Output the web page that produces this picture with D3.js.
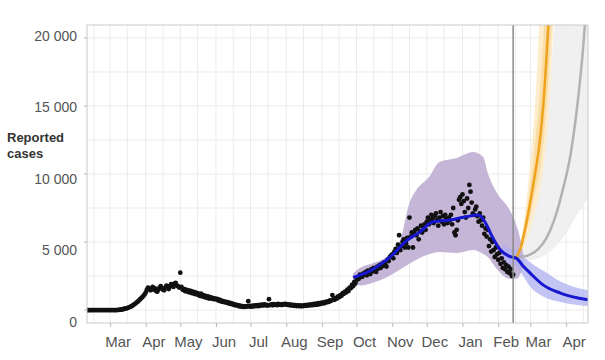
<!DOCTYPE html>
<html>
<head>
<meta charset="utf-8">
<script src="https://cdn.jsdelivr.net/npm/d3@7"></script>
<style>
  html, body { margin: 0; padding: 0; background: #fff; }
  svg { display: block; font-family: "Liberation Sans", Arial, sans-serif; }
</style>
</head>
<body>
<svg id="chart" width="605" height="360"></svg>
<script>
// ---------------- DATA ----------------
const casesStart = "2020-02-10"; // first daily observation
const dailyCases = [
  // Feb 10-29 2020
  0,0,0,0,0,0,0,0,0,0, 0,0,0,0,0,0,0,0,0,0,
  // Mar 1-31
  0,0,0,0,0,0,0, 10,20,30,40,60,80,100,120,150,180,220,260,300,350,420,480,550,620,700,780,860,950,1050,1150,
  // Apr
  1300,1500,1650,1600,1450,1550,1700,1500,1600,1400, 1350,1500,1650,1750,1600,1500,1450,1650,1800,1700, 1550,1750,1900,1850,1700,1950,2000,1800,1750,1650,
  // May
  2750,1700,1500,1550,1400,1500,1350,1450,1300,1400, 1250,1350,1200,1300,1150,1250,1100,1050,1200,1000, 1100,950,1050,900,1000,850,950,850,900,800,850,
  // Jun
  780,820,700,760,650,700,600,640,560,600, 520,560,460,500,420,450,360,400,330,360, 280,320,250,290,230,270,240,280,650,260,
  // Jul
  300,250,330,280,350,300,360,290,380,320, 400,340,420,350,380,330,800,370,420,350, 440,380,420,360,450,390,410,370,440,400,460,
  // Aug
  430,380,410,350,400,330,380,310,360,300, 350,290,340,280,330,300,360,310,380,330, 400,350,420,360,450,380,470,400,500,430,520,
  // Sep
  480,560,500,600,560,640,600,720,680,1100, 800,760,900,850,1000,950,1100,1050,1250,1200, 1350,1300,1500,1400,1650,1600,1850,1750,2050,1950,
  // Oct
  2200,2400,2300,2600,2500,2450,2700,2600,2800,2550, 2900,2750,2650,3000,2850,3100,2900,2800,3200,3050, 3300,3100,3400,3250,3500,3350,3200,3700,3600,3900,4000,
  // Nov
  4100,3800,4300,4500,4200,4800,5500,4400,4700,5000, 5200,4600,4900,5300,4600,6800,5400,5700,4600,5600, 5900,5500,6000,5200,5800,6200,5700,6100,6300,5900,
  // Dec
  6500,6800,6300,6600,7000,6700,6400,6900,7100,6600, 6200,6800,7200,6500,6900,6300,7000,6700,6400,6800, 6600,7000,6300,7500,5700,5500,5900,6600,8100,8300,7800,
  // Jan 2021
  8500,8000,7200,6800,8200,7500,9200,8700,7900,7100, 7000,7400,7600,6900,6500,7100,6600,6200,6800,5600, 6000,5400,5900,4700,5200,4300,5000,4400,3900,4600,4100,
  // Feb 1-14
  3700,4200,3400,3800,3100,3500,3000,3300,2800,3200,2700,3000,2500,2600
];

// Model fit + forecast (central estimate)
const fitDates  = ["2020-09-28","2020-10-04","2020-10-12","2020-10-21","2020-11-03","2020-11-12","2020-11-25","2020-12-06","2020-12-21","2021-01-03","2021-01-15","2021-01-21","2021-01-27","2021-02-03","2021-02-11","2021-02-17","2021-02-22","2021-03-01","2021-03-12","2021-03-27","2021-04-20"];
const fitValues = [2400,2570,2850,3310,4190,5000,5735,6470,6620,6840,6985,6400,5370,4410,3950,3800,3300,2700,1850,1250,750];

// Fit uncertainty band (purple)
const bandDates = ["2020-09-28","2020-10-05","2020-10-15","2020-10-27","2020-11-03","2020-11-08","2020-11-16","2020-11-22","2020-12-03","2020-12-12","2020-12-27","2021-01-10","2021-01-19","2021-01-23","2021-01-31","2021-02-11","2021-02-17","2021-02-20","2021-02-23"];
const bandLower = [2000,1800,2000,2400,2720,3000,3400,3700,4100,4260,4190,4410,4120,3900,3000,2300,2300,2600,3300];
const bandUpper = [2700,3150,3450,3900,4500,5150,7870,8820,9780,10880,11180,11620,11250,10070,8600,7350,6200,5300,4000];

// Forecast band (blue)
const fcDates = ["2021-02-05","2021-02-11","2021-02-17","2021-02-22","2021-03-01","2021-03-12","2021-03-27","2021-04-20"];
const fcLower = [3700,3400,3200,2600,1700,1000,600,300];
const fcUpper = [4900,4500,4400,4000,3500,2900,2100,1450];

// Scenario A (orange)
const orDates  = ["2021-02-17","2021-02-21","2021-02-25","2021-03-01","2021-03-05","2021-03-09","2021-03-13","2021-03-17","2021-03-21"];
const orValues = [3900,4700,6200,8000,10000,12300,16000,21500,27000];
const orInnerLo = [3900,4450,5600,7000,8600,10200,13000,17500,23000];
const orInnerHi = [3900,5000,6900,9300,12200,15800,21000,28000,36000];
const orOuterLo = [3900,4200,5000,5900,7200,8700,11000,14500,21000];
const orOuterHi = [3900,5400,7600,11000,15000,21500,28000,36000,45000];

// Scenario B (grey)
const grDates  = ["2021-02-17","2021-02-24","2021-03-01","2021-03-08","2021-03-15","2021-03-22","2021-03-29","2021-04-05","2021-04-12","2021-04-16","2021-04-20"];
const grValues = [3900,3950,4100,4500,5300,6700,8800,11500,16000,19500,24000];
const grLower  = [3900,3700,3650,3800,4100,4600,5300,6200,7200,7700,8300];
const grUpper  = [3900,5000,6500,9500,14000,21000,30000,40000,50000,55000,60000];

const dataEndDate = "2021-02-14";
const monthLabels = ["Mar","Apr","May","Jun","Jul","Aug","Sep","Oct","Nov","Dec","Jan","Feb","Mar","Apr"];
const yTicks = [0, 5000, 10000, 15000, 20000];
const yGrid = [0, 2500, 5000, 7500, 10000, 12500, 15000, 17500, 20000];

// ---------------- CHART ----------------
const parse = d3.utcParse("%Y-%m-%d");
const svg = d3.select("#chart");
const L = 87, R = 588, T = 25, B = 323;

const x = d3.scaleUtc().domain([parse("2020-02-10"), parse("2021-04-20")]).range([L, R]);
const y = d3.scaleLinear().domain([-950, 20950]).range([B, T]);
const yLab = d3.scaleLinear().domain([0, 20000]).range([322, 36]);

const loc = d3.formatLocale({decimal: ".", thousands: " ", grouping: [3], currency: ["", ""]});
const fmt = loc.format(",d");

svg.append("defs").append("clipPath").attr("id", "clip")
  .append("rect").attr("x", L).attr("y", T).attr("width", R - L).attr("height", B - T);

// grid
const grid = svg.append("g");
const gridDates = [];
d3.utcMonth.range(parse("2020-02-01"), parse("2021-05-01")).forEach(m => {
  gridDates.push(m); gridDates.push(d3.utcDay.offset(m, 15));
});
grid.selectAll("line.v").data(gridDates.filter(d => x(d) > L && x(d) < R)).join("line")
  .attr("x1", d => x(d)).attr("x2", d => x(d)).attr("y1", T).attr("y2", B)
  .attr("stroke", "#ececec").attr("stroke-width", 1);
grid.selectAll("line.h").data(yGrid).join("line")
  .attr("x1", L).attr("x2", R).attr("y1", d => y(d)).attr("y2", d => y(d))
  .attr("stroke", "#ebebeb").attr("stroke-width", 1);

const plot = svg.append("g").attr("clip-path", "url(#clip)");
const curve = d3.curveMonotoneX;

function band(dates, lo, hi) {
  const rows = dates.map((d, i) => ({d: parse(d), lo: lo[i], hi: hi[i]}));
  return d3.area().curve(curve).x(r => x(r.d)).y0(r => y(r.lo)).y1(r => y(r.hi))(rows);
}
function line(dates, vals) {
  const rows = dates.map((d, i) => ({d: parse(d), v: vals[i]}));
  return d3.line().curve(curve).x(r => x(r.d)).y(r => y(r.v))(rows);
}

// grey scenario band
plot.append("path").attr("d", band(grDates, grLower, grUpper)).attr("fill", "#ededed").attr("opacity", 0.85);
// orange scenario bands
plot.append("path").attr("d", band(orDates, orOuterLo, orOuterHi)).attr("fill", "#fdebc8").attr("opacity", 0.9);
plot.append("path").attr("d", band(orDates, orInnerLo, orInnerHi)).attr("fill", "#f9d08a").attr("opacity", 0.6);
// fit band (purple)
plot.append("path").attr("d", band(bandDates, bandLower, bandUpper)).attr("fill", "#c5b5d6");
// forecast band (blue)
plot.append("path").attr("d", band(fcDates, fcLower, fcUpper)).attr("fill", "#aeb0f0").attr("opacity", 0.75);

// observations
const t0 = parse(casesStart);
plot.append("g").selectAll("circle").data(dailyCases).join("circle")
  .attr("cx", (v, i) => x(d3.utcDay.offset(t0, i)))
  .attr("cy", v => y(v))
  .attr("r", 2.4).attr("fill", "#111");

// vertical line: end of data
svg.append("line")
  .attr("x1", x(parse(dataEndDate))).attr("x2", x(parse(dataEndDate)))
  .attr("y1", T).attr("y2", B).attr("stroke", "#8a8a8a").attr("stroke-width", 1.5);

// scenario lines
plot.append("path").attr("d", line(grDates, grValues)).attr("fill", "none").attr("stroke", "#b2b2b2").attr("stroke-width", 2.5);
plot.append("path").attr("d", line(orDates, orValues)).attr("fill", "none").attr("stroke", "#efa21c").attr("stroke-width", 2.5);
// fit line
plot.append("path").attr("d", line(fitDates, fitValues)).attr("fill", "none").attr("stroke", "#1717cf").attr("stroke-width", 3);

// frame
svg.append("rect").attr("x", L).attr("y", T).attr("width", R - L).attr("height", B - T)
  .attr("fill", "none").attr("stroke", "#c9c9c9").attr("stroke-width", 1);

// y tick marks (on grid scale)
svg.append("g").selectAll("line").data(yTicks).join("line")
  .attr("x1", L - 3).attr("x2", L).attr("y1", d => y(d)).attr("y2", d => y(d))
  .attr("stroke", "#bbb");
// y labels
const yAxis = svg.append("g").attr("transform", `translate(${L - 7},0)`)
  .call(d3.axisLeft(yLab).tickValues(yTicks).tickFormat(fmt).tickSize(0));
yAxis.select(".domain").remove();
yAxis.selectAll("text").attr("font-size", 14).attr("fill", "#555")
  .attr("font-family", "'Liberation Sans', Arial, sans-serif");

// x axis
const months = d3.utcMonth.range(parse("2020-03-01"), parse("2021-05-01"));
const xAxis = svg.append("g").attr("transform", `translate(0,${B})`)
  .call(d3.axisBottom(x).tickValues(months).tickSize(4).tickFormat(""));
xAxis.select(".domain").remove();
xAxis.selectAll("line").attr("stroke", "#bbb");
svg.append("g").selectAll("text").data(months).join("text")
  .attr("x", d => x(d3.utcDay.offset(d, 7)))
  .attr("y", 347)
  .attr("text-anchor", "middle")
  .attr("font-size", 15).attr("fill", "#555")
  .text((d, i) => monthLabels[i]);

// y title
const yt = svg.append("text").attr("x", 7).attr("font-size", 13).attr("font-weight", "bold").attr("fill", "#333");
yt.append("tspan").attr("x", 7).attr("y", 142).text("Reported");
yt.append("tspan").attr("x", 7).attr("y", 158).text("cases");
</script>
</body>
</html>
